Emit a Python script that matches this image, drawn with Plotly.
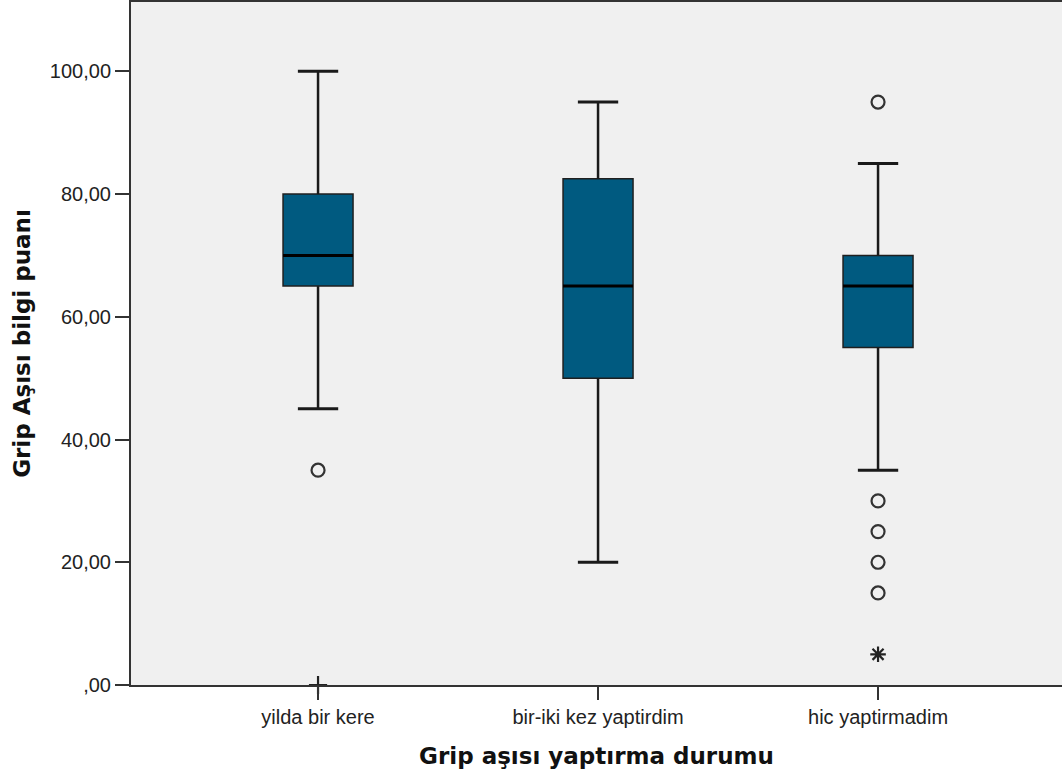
import plotly.graph_objects as go

# ---- data ----
categories = ["yilda bir kere", "bir-iki kez yaptirdim", "hic yaptirmadim"]
lower_whisker = [45, 20, 35]
q1 = [65, 50, 55]
median = [70, 65, 65]
q3 = [80, 82.5, 70]
upper_whisker = [100, 95, 85]
outliers = [[35], [], [95, 30, 25, 20, 15]]
extremes = [[0], [], [5]]
y_tickvals = [0, 20, 40, 60, 80, 100]
y_ticktext = [",00", "20,00", "40,00", "60,00", "80,00", "100,00"]

BOX_COLOR = "#005a80"
LINE_COLOR = "#1a1a1a"
box_w = 0.25
cap_half = 0.072

fig = go.Figure()
xs = list(range(len(categories)))

# boxes (without whiskers)
fig.add_trace(go.Box(
    x=xs, q1=q1, median=median, q3=q3,
    lowerfence=q1, upperfence=q3,
    width=box_w, fillcolor=BOX_COLOR,
    line=dict(color="#1f1f1f", width=1.5),
    boxpoints=False, hoverinfo="skip", showlegend=False,
))

# whiskers, caps, medians
for i in xs:
    for a, b in [(q3[i], upper_whisker[i]), (q1[i], lower_whisker[i])]:
        fig.add_trace(go.Scatter(x=[i, i], y=[a, b], mode="lines",
                                 line=dict(color=LINE_COLOR, width=2.5),
                                 showlegend=False, hoverinfo="skip"))
    for v in [upper_whisker[i], lower_whisker[i]]:
        fig.add_trace(go.Scatter(x=[i - cap_half, i + cap_half], y=[v, v], mode="lines",
                                 line=dict(color=LINE_COLOR, width=3),
                                 showlegend=False, hoverinfo="skip"))
    fig.add_trace(go.Scatter(x=[i - box_w / 2, i + box_w / 2], y=[median[i], median[i]],
                             mode="lines", line=dict(color="#000000", width=3),
                             showlegend=False, hoverinfo="skip"))
    if outliers[i]:
        fig.add_trace(go.Scatter(x=[i] * len(outliers[i]), y=outliers[i], mode="markers",
                                 marker=dict(symbol="circle-open", size=13,
                                             line=dict(color="#333333", width=2.2),
                                             color="#333333"),
                                 showlegend=False, hoverinfo="skip"))
    if extremes[i]:
        fig.add_trace(go.Scatter(x=[i] * len(extremes[i]), y=extremes[i], mode="markers",
                                 marker=dict(symbol="asterisk-open" if extremes[i][0] > 0 else "cross-thin-open",
                                             size=13,
                                             line=dict(color="#222222", width=2.2),
                                             color="#222222"),
                                 cliponaxis=False,
                                 showlegend=False, hoverinfo="skip"))

fig.update_layout(
    width=1062, height=778,
    margin=dict(l=131, r=0, t=2, b=93),
    paper_bgcolor="white", plot_bgcolor="#f0f0f0",
    font=dict(family="Liberation Sans, Arial, sans-serif", size=20, color="#222222"),
    showlegend=False,
)
fig.update_xaxes(
    range=[-0.668, 2.657], tickmode="array", tickvals=xs, ticktext=categories,
    showgrid=False, zeroline=False, showline=True, linecolor="#333333", linewidth=2,
    mirror=True, ticks="outside", ticklen=13, tickwidth=2, tickcolor="#333333",
    tickfont=dict(size=20),
    title=dict(text="Grip aşısı yaptırma durumu", standoff=21,
               font=dict(family="DejaVu Sans", size=23, color="#111111", weight="bold")),
)
fig.update_yaxes(
    range=[0, 111.3], tickmode="array", tickvals=y_tickvals, ticktext=y_ticktext,
    showgrid=False, zeroline=False, showline=True, linecolor="#333333", linewidth=2,
    ticks="outside", ticklen=14, tickwidth=2, tickcolor="#333333",
    tickfont=dict(size=20),
    title=dict(text="Grip Aşısı bilgi puanı", standoff=13,
               font=dict(family="DejaVu Sans", size=23, color="#111111", weight="bold")),
)

fig.write_html("out.html", config={"displayModeBar": False},
               post_script="document.body.style.margin='0';document.body.style.overflow='hidden';")
